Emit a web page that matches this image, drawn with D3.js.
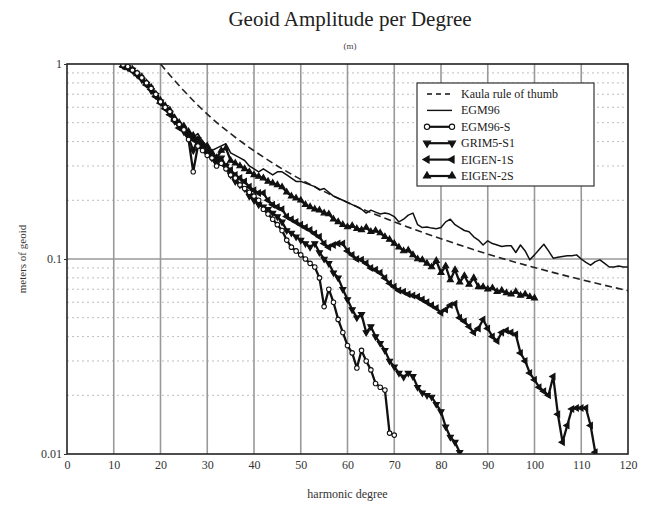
<!DOCTYPE html>
<html><head><meta charset="utf-8">
<script src="https://cdn.jsdelivr.net/npm/d3@7"></script>
<style>body{margin:0;background:#fff}svg{display:block}text{font-family:"Liberation Serif","DejaVu Serif",serif}</style>
</head><body><svg id="c" width="647" height="508"></svg>
<script>
const xTicks=[0,10,20,30,40,50,60,70,80,90,100,110,120];
const yTicks=[0.01,0.1,1];
const yTickLabels=["0.01","0.1","1"];
const minorY=[0.02,0.03,0.04,0.05,0.06,0.07,0.08,0.09,0.2,0.3,0.4,0.5,0.6,0.7,0.8,0.9];

const kaulaDeg=[20,25,30,35,40,45,50,60,70,80,90,100,110,120];
const kaulaVal=[1.0,0.729,0.553,0.439,0.359,0.300,0.256,0.195,0.155,0.127,0.106,0.0904,0.0784,0.0688];

const egm96Start=12;
const egm96=[0.99,0.97,0.93,0.90,0.85,0.79,0.75,0.69,0.64,
0.60,0.56,0.52,0.49,0.47,0.44,0.42,0.44,0.40,0.38,
0.36,0.37,0.38,0.39,0.35,0.34,0.33,0.32,0.30,0.29,
0.28,0.29,0.28,0.27,0.28,0.28,0.27,0.26,0.25,0.25,
0.245,0.24,0.235,0.226,0.23,0.22,0.21,0.205,0.20,0.195,
0.19,0.185,0.18,0.172,0.178,0.174,0.17,0.172,0.17,0.165,
0.155,0.16,0.168,0.172,0.15,0.145,0.146,0.144,0.143,0.145,
0.155,0.16,0.15,0.145,0.14,0.138,0.13,0.125,0.118,0.124,
0.12,0.118,0.116,0.117,0.117,0.108,0.118,0.11,0.099,0.105,
0.112,0.119,0.11,0.101,0.102,0.103,0.104,0.104,0.105,0.100,
0.096,0.093,0.097,0.099,0.095,0.091,0.091,0.092,0.091,0.091];

const egm96sStart=12;
const egm96s=[0.99,0.97,0.93,0.90,0.85,0.80,0.75,0.70,0.64,
0.60,0.57,0.52,0.49,0.46,0.41,0.28,0.38,0.36,0.34,
0.33,0.30,0.31,0.29,0.27,0.26,0.24,0.23,0.22,0.21,
0.20,0.18,0.17,0.16,0.15,0.14,0.125,0.115,0.11,0.105,
0.10,0.095,0.091,0.08,0.057,0.07,0.06,0.049,0.042,0.036,
0.033,0.0276,0.034,0.030,0.027,0.023,0.022,0.0213,0.0128,0.0125];

const grim5Start=12;
const grim5=[0.98,0.96,0.93,0.88,0.83,0.79,0.73,0.69,0.64,
0.60,0.56,0.51,0.48,0.45,0.42,0.36,0.41,0.37,0.35,
0.33,0.31,0.33,0.30,0.27,0.25,0.24,0.23,0.21,0.20,
0.19,0.185,0.18,0.172,0.165,0.155,0.14,0.136,0.13,0.125,
0.12,0.115,0.12,0.108,0.10,0.095,0.085,0.08,0.07,0.062,
0.055,0.05,0.052,0.042,0.045,0.04,0.037,0.034,0.030,0.028,
0.026,0.0248,0.026,0.025,0.022,0.0206,0.020,0.0196,0.018,0.0165,
0.0138,0.0122,0.0115,0.0102];

const eigen1Start=12;
const eigen1=[0.97,0.95,0.92,0.88,0.84,0.78,0.74,0.68,0.63,
0.59,0.55,0.51,0.47,0.46,0.43,0.41,0.40,0.38,0.36,
0.34,0.32,0.31,0.30,0.286,0.27,0.26,0.25,0.235,0.225,
0.218,0.218,0.20,0.19,0.185,0.18,0.165,0.16,0.155,0.15,
0.145,0.141,0.135,0.13,0.12,0.115,0.118,0.12,0.12,0.11,
0.105,0.10,0.099,0.095,0.09,0.088,0.085,0.08,0.075,0.072,
0.069,0.068,0.066,0.065,0.064,0.062,0.06,0.058,0.056,0.053,
0.055,0.058,0.059,0.05,0.048,0.045,0.042,0.044,0.049,0.044,
0.04,0.038,0.042,0.043,0.042,0.041,0.033,0.03,0.026,0.024,
0.022,0.021,0.02,0.025,0.016,0.0115,0.014,0.017,0.0172,0.0172,
0.0172,0.014,0.0102];

const eigen2Start=12;
const eigen2=[0.98,0.96,0.94,0.89,0.86,0.80,0.76,0.70,0.65,
0.61,0.58,0.53,0.50,0.48,0.45,0.43,0.41,0.39,0.38,
0.35,0.33,0.36,0.37,0.32,0.31,0.30,0.29,0.28,0.27,
0.265,0.26,0.25,0.245,0.24,0.234,0.22,0.21,0.205,0.20,
0.19,0.185,0.18,0.178,0.172,0.17,0.16,0.155,0.15,0.146,
0.148,0.143,0.141,0.145,0.138,0.14,0.136,0.13,0.126,0.12,
0.115,0.11,0.111,0.105,0.10,0.099,0.095,0.091,0.098,0.085,
0.092,0.078,0.088,0.076,0.082,0.074,0.08,0.072,0.072,0.07,
0.071,0.068,0.069,0.067,0.066,0.068,0.065,0.066,0.064,0.063];

const seriesNames=["Kaula rule of thumb","EGM96","EGM96-S","GRIM5-S1","EIGEN-1S","EIGEN-2S"];

const W=647,H=508,L=67,R=628,T=64,B=454;
const svg=d3.select("#c");
const x=d3.scaleLinear().domain([0,120]).range([L,R]);
const y=d3.scaleLog().domain([0.01,1]).range([B,T]);

svg.append("text").attr("x",350).attr("y",26).attr("text-anchor","middle").attr("font-size",21).attr("fill","#222").text("Geoid Amplitude per Degree");
svg.append("text").attr("x",350).attr("y",49).attr("text-anchor","middle").attr("font-size",9).attr("fill","#444").text("(m)");

const g=svg.append("g");
g.selectAll("line.mg").data(minorY).join("line").attr("x1",L).attr("x2",R).attr("y1",d=>y(d)).attr("y2",d=>y(d))
 .attr("stroke","#bdbdbd").attr("stroke-width",1).attr("stroke-dasharray","2,3");
g.selectAll("line.vg").data(xTicks.slice(1,-1)).join("line").attr("x1",d=>x(d)).attr("x2",d=>x(d)).attr("y1",T).attr("y2",B)
 .attr("stroke","#999").attr("stroke-width",1.6);
g.append("line").attr("x1",L).attr("x2",R).attr("y1",y(0.1)).attr("y2",y(0.1)).attr("stroke","#999").attr("stroke-width",1.6);

svg.append("clipPath").attr("id","clp").append("rect").attr("x",L).attr("y",T).attr("width",R-L).attr("height",B-T);
const plot=svg.append("g").attr("clip-path","url(#clp)");

const toPts=(start,arr)=>arr.map((v,i)=>[start+i,v]);
const line=d3.line().x(d=>x(d[0])).y(d=>y(d[1]));

plot.append("path").datum(kaulaDeg.map((d,i)=>[d,kaulaVal[i]])).attr("d",d3.line().x(d=>x(d[0])).y(d=>y(d[1])).curve(d3.curveMonotoneX))
 .attr("fill","none").attr("stroke","#222").attr("stroke-width",1.6).attr("stroke-dasharray","7,4");

const specs=[
 {data:toPts(egm96Start,egm96),w:1.5,sym:null},
 {data:toPts(eigen2Start,eigen2),w:2.3,sym:d3.symbolTriangle,rot:0,fill:"#111"},
 {data:toPts(eigen1Start,eigen1),w:2.3,sym:d3.symbolTriangle,rot:-90,fill:"#111"},
 {data:toPts(grim5Start,grim5),w:2.3,sym:d3.symbolTriangle,rot:180,fill:"#111"},
 {data:toPts(egm96sStart,egm96s),w:2.3,sym:d3.symbolCircle,rot:0,fill:"#fff"}
];
specs.forEach(s=>{
 plot.append("path").datum(s.data).attr("d",line).attr("fill","none").attr("stroke","#111").attr("stroke-width",s.w).attr("stroke-linejoin","round");
 if(s.sym){
  plot.append("g").selectAll("path").data(s.data).join("path")
   .attr("d",d3.symbol().type(s.sym).size(16))
   .attr("transform",d=>`translate(${x(d[0])},${y(d[1])}) rotate(${s.rot})`)
   .attr("fill",s.fill).attr("stroke","#111").attr("stroke-width",1.1);
 }
});

svg.append("rect").attr("x",L).attr("y",T).attr("width",R-L).attr("height",B-T).attr("fill","none").attr("stroke","#222").attr("stroke-width",1.6);

const xa=svg.append("g").attr("transform",`translate(0,${B})`).call(d3.axisBottom(x).tickValues(xTicks).tickSize(0).tickPadding(6).tickFormat(d3.format("d")));
xa.select(".domain").remove();
xa.selectAll("text").attr("font-family","Liberation Serif").attr("font-size",12).attr("fill","#333");
const ya=svg.append("g").attr("transform",`translate(${L},0)`).call(d3.axisLeft(y).tickValues(yTicks).tickSize(3).tickPadding(2).tickFormat((d,i)=>yTickLabels[i]));
ya.select(".domain").remove();
ya.selectAll("line").attr("stroke","#333");
ya.selectAll("text").attr("font-family","Liberation Serif").attr("font-size",12).attr("fill","#333");

svg.append("text").attr("x",(L+R)/2).attr("y",498).attr("text-anchor","middle").attr("font-size",12).attr("fill","#333").text("harmonic degree");
svg.append("text").attr("transform","translate(26,259) rotate(-90)").attr("text-anchor","middle").attr("font-size",11).attr("fill","#333").text("meters of geoid");

const lg=svg.append("g");
lg.append("rect").attr("x",417).attr("y",83).attr("width",177).attr("height",103).attr("fill","#fff").attr("stroke","#333").attr("stroke-width",1.2);
const legSyms=[null,null,{t:d3.symbolCircle,r:0,f:"#fff"},{t:d3.symbolTriangle,r:180,f:"#111"},{t:d3.symbolTriangle,r:-90,f:"#111"},{t:d3.symbolTriangle,r:0,f:"#111"}];
seriesNames.forEach((nm,i)=>{
 const yy=94+i*16.4;
 const ln=lg.append("line").attr("x1",427).attr("x2",452).attr("y1",yy).attr("y2",yy).attr("stroke","#111").attr("stroke-width",i<2?1.4:2.2);
 if(i===0) ln.attr("stroke-dasharray","5,4");
 const s=legSyms[i];
 if(s){[427,452].forEach(xx=>lg.append("path").attr("d",d3.symbol().type(s.t).size(22)).attr("transform",`translate(${xx},${yy}) rotate(${s.r})`).attr("fill",s.f).attr("stroke","#111").attr("stroke-width",1.1));}
 lg.append("text").attr("x",461).attr("y",yy+4).attr("font-size",12).attr("fill","#222").text(nm);
});
</script></body></html>
